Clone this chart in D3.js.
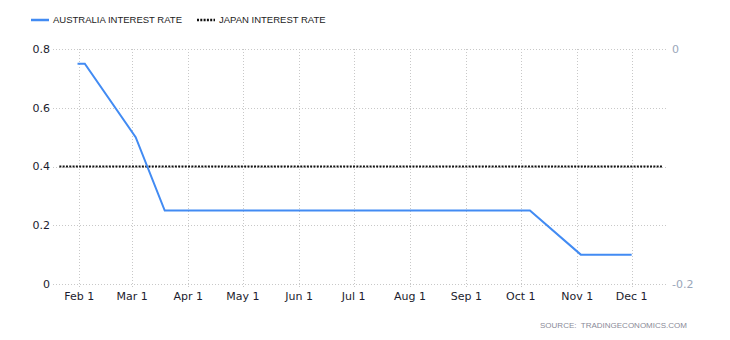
<!DOCTYPE html>
<html>
<head>
<meta charset="utf-8">
<script src="https://cdnjs.cloudflare.com/ajax/libs/d3/7.8.5/d3.min.js"></script>
<style>
    html, body { margin: 0; padding: 0; background: #fff; }
    #chart { width: 730px; height: 340px; }
    .tick-label { font-family: "DejaVu Sans", sans-serif; font-size: 11px; fill: #1c1c2e; }
    .right-label { font-family: "DejaVu Sans", sans-serif; font-size: 11px; fill: #9aa6ba; }
    .legend-label { font-family: "Liberation Sans", Arial, sans-serif; font-size: 9.5px; fill: #222; }
    .source { font-family: "Liberation Sans", Arial, sans-serif; font-size: 8px; fill: #8a8a98; white-space: pre; }
</style>
</head>
<body>
<div id="chart"></div>
<script>
//Datos
const seriesNames = ['AUSTRALIA INTEREST RATE', 'JAPAN INTEREST RATE'];
const ausDates = ['2020-01-31', '2020-02-04', '2020-03-03', '2020-03-19', '2020-10-06', '2020-11-03', '2020-12-01'];
const ausValues = [0.75, 0.75, 0.5, 0.25, 0.25, 0.1, 0.1];
const jpDates = ['2020-01-21', '2020-03-16', '2020-04-27', '2020-06-16', '2020-07-15', '2020-09-17', '2020-10-29', '2020-12-18'];
const jpValues = [-0.1, -0.1, -0.1, -0.1, -0.1, -0.1, -0.1, -0.1];
const leftTicks = [0, 0.2, 0.4, 0.6, 0.8];
const rightTicks = [-0.2, 0];
const xDomain = ['2020-01-17 12', '2020-12-21 00'];
const sourceText = 'SOURCE:  TRADINGECONOMICS.COM';

//Colores
const COLOR_AUS = '#428bf3',
    COLOR_JP = '#111111',
    COLOR_GRID = '#c8c8c8';

const parseDay = d3.timeParse('%Y-%m-%d');
const parseHour = d3.timeParse('%Y-%m-%d %H');

//Formato con guion normal
function fmtTick(d) {
    return d === 0 ? '0' : d.toFixed(1);
}

let margin = {top: 49, right: 62, bottom: 56, left: 53},
    width = 730 - margin.left - margin.right,
    height = 340 - margin.top - margin.bottom;

let svg = d3.select('#chart')
    .append('svg')
        .attr('width', 730)
        .attr('height', 340);

let chart = svg.append('g')
    .attr('transform', 'translate(' + margin.left + ',' + margin.top + ')');

//Escalas
let x = d3.scaleTime()
    .domain(xDomain.map(parseHour))
    .range([0, width]);

let yLeft = d3.scaleLinear()
    .domain([0, 0.8])
    .range([height, 0]);

let yRight = d3.scaleLinear()
    .domain([-0.2, 0])
    .range([height, 0]);

let monthTicks = d3.timeMonth.range(parseDay('2020-02-01'), parseDay('2020-12-02'));

//Rejilla horizontal
chart.append('g')
    .selectAll('line')
    .data(leftTicks)
    .enter()
    .append('line')
        .attr('x1', 0)
        .attr('x2', width)
        .attr('y1', function(d) { return Math.round(yLeft(d)) + 0.5; })
        .attr('y2', function(d) { return Math.round(yLeft(d)) + 0.5; })
        .attr('stroke', COLOR_GRID)
        .attr('stroke-width', 1)
        .attr('stroke-dasharray', '1,2');

//Rejilla vertical
chart.append('g')
    .selectAll('line')
    .data(monthTicks)
    .enter()
    .append('line')
        .attr('x1', function(d) { return Math.round(x(d)) + 0.5; })
        .attr('x2', function(d) { return Math.round(x(d)) + 0.5; })
        .attr('y1', 0)
        .attr('y2', height + 4)
        .attr('stroke', COLOR_GRID)
        .attr('stroke-width', 1)
        .attr('stroke-dasharray', '1,2');

//Etiquetas eje X
chart.append('g')
    .selectAll('text')
    .data(monthTicks)
    .enter()
    .append('text')
        .attr('class', 'tick-label')
        .attr('x', function(d) { return x(d); })
        .attr('y', height + 16)
        .attr('text-anchor', 'middle')
        .text(d3.timeFormat('%b %-d'));

//Etiquetas eje izquierdo
chart.append('g')
    .selectAll('text')
    .data(leftTicks)
    .enter()
    .append('text')
        .attr('class', 'tick-label')
        .attr('x', -3)
        .attr('y', function(d) { return yLeft(d); })
        .attr('dy', '0.35em')
        .attr('text-anchor', 'end')
        .text(fmtTick);

//Etiquetas eje derecho
chart.append('g')
    .selectAll('text')
    .data(rightTicks)
    .enter()
    .append('text')
        .attr('class', 'right-label')
        .attr('x', width + 4)
        .attr('y', function(d) { return yRight(d); })
        .attr('dy', '0.35em')
        .text(fmtTick);

//Líneas
let ausData = ausDates.map(function(d, i) { return {date: parseDay(d), value: ausValues[i]}; });
let jpData = jpDates.map(function(d, i) { return {date: parseDay(d), value: jpValues[i]}; });

chart.append('path')
    .datum(jpData)
    .attr('fill', 'none')
    .attr('stroke', COLOR_JP)
    .attr('stroke-width', 2)
    .attr('stroke-dasharray', '2,1.3')
    .attr('d', d3.line()
        .x(function(d) { return x(d.date); })
        .y(function(d) { return Math.floor(yRight(d.value)) + 0.5; }));

chart.append('path')
    .datum(ausData)
    .attr('fill', 'none')
    .attr('stroke', COLOR_AUS)
    .attr('stroke-width', 2)
    .attr('d', d3.line()
        .x(function(d) { return x(d.date); })
        .y(function(d) { return yLeft(d.value); }));

//Leyenda
let legend = svg.append('g').attr('transform', 'translate(31,20)');

legend.append('line')
    .attr('x1', 0).attr('x2', 18)
    .attr('y1', 0).attr('y2', 0)
    .attr('stroke', COLOR_AUS)
    .attr('stroke-width', 2.5);

legend.append('text')
    .attr('class', 'legend-label')
    .attr('x', 22)
    .attr('y', 0)
    .attr('dy', '0.35em')
    .text(seriesNames[0]);

legend.append('line')
    .attr('x1', 166).attr('x2', 184)
    .attr('y1', 0).attr('y2', 0)
    .attr('stroke', COLOR_JP)
    .attr('stroke-width', 2.5)
    .attr('stroke-dasharray', '2,1.3');

legend.append('text')
    .attr('class', 'legend-label')
    .attr('x', 188)
    .attr('y', 0)
    .attr('dy', '0.35em')
    .text(seriesNames[1]);

//Fuente
svg.append('text')
    .attr('class', 'source')
    .attr('x', 687)
    .attr('y', 325)
    .attr('dy', '0.35em')
    .attr('text-anchor', 'end')
    .text(sourceText);
</script>
</body>
</html>
